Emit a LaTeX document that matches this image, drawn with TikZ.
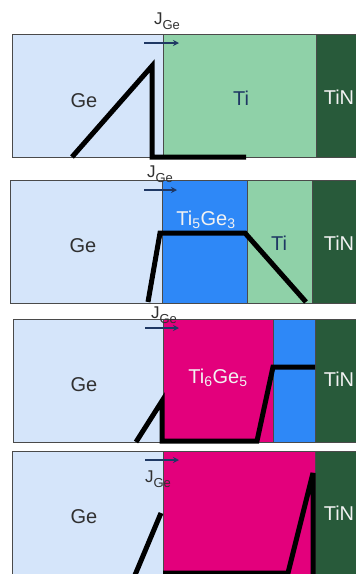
\documentclass[tikz,border=0pt]{standalone}
\usepackage{fontspec}
\setmainfont{Liberation Sans}
\usetikzlibrary{arrows.meta,positioning}
\definecolor{gefill}{HTML}{D5E5FA}
\definecolor{tifill}{HTML}{8FD1A8}
\definecolor{tinfill}{HTML}{285A3A}
\definecolor{tgblue}{HTML}{2E88F7}
\definecolor{tgpink}{HTML}{E3007C}
\definecolor{navy}{HTML}{1F3864}
\definecolor{edgegray}{HTML}{4A4A4A}
\definecolor{txtgray}{HTML}{303030}
\definecolor{offwhite}{HTML}{F2F2F2}
\tikzset{
  layer/.style={
    rectangle, draw=edgegray, fill=#1, line width=0.8pt,
    outer sep=0pt, inner sep=0pt, minimum height=123pt
  },
  layer/.default=gefill,
  lbl/.style={
    font=\fontsize{20}{24}\selectfont, text=#1,
    inner sep=0pt, anchor=base
  },
  lbl/.default=txtgray,
  profile/.style={line width=5pt, black},
  flux/.style={
    -{Stealth[length=6pt,width=6pt]}, line width=1.6pt, color=navy
  },
}
\newcommand{\jflux}{J\raisebox{-0.3em}{\fontsize{13}{13}\selectfont Ge}}

\begin{document}
\begin{tikzpicture}[x=1pt, y=-1pt,
  jlbl/.style={font=\fontsize{17}{20}\selectfont, text=txtgray,
    inner sep=0pt, anchor=base}]
  \clip (0,0) rectangle (356,574);

  % ── As deposited ────────────────
  \node[layer, anchor=north west, minimum width=151pt] (ge1) at (12,34) {};
  \node[layer=tifill, right=0pt of ge1, minimum width=153pt] (ti1) {};
  \node[layer=tinfill, right=0pt of ti1, minimum width=44pt] (tin1) {};
  \draw[profile] (72,157) -- (152,66) -- (152,157) -- (246,157);
  \node[lbl] (gel1) at (84,107) {Ge};
  \node[lbl=navy] (til1) at (241,105) {Ti};
  \node[lbl=offwhite] (tinl1) at (339,104) {TiN};
  \node[jlbl] (jl1) at (167,24) {\jflux};
  \coordinate (fa1) at (144,43);
  \coordinate (fb1) at (179,43);
  \draw[flux] (fa1) -- (fb1);

  % ── Ti5Ge3 ──────────────────────
  \node[layer, anchor=north west, minimum width=152pt] (ge2) at (10,180) {};
  \node[layer=tgblue, right=0pt of ge2, minimum width=85pt] (tg2) {};
  \node[layer=tifill, right=0pt of tg2, minimum width=65pt] (ti2) {};
  \node[layer=tinfill, right=0pt of ti2, minimum width=48pt] (tin2) {};
  \draw[profile] (148,302) -- (160,233) -- (245,233) -- (306,302);
  \node[lbl] (gel2) at (83,252) {Ge};
  \node[lbl=offwhite] (tgl2) at (206,225) {Ti\textsubscript{5}Ge\textsubscript{3}};
  \node[lbl=navy] (til2) at (279,250) {Ti};
  \node[lbl=offwhite] (tinl2) at (339,250) {TiN};
  \node[jlbl] (jl2) at (160,177) {\jflux};
  \coordinate (fa2) at (144,190);
  \coordinate (fb2) at (177,190);
  \draw[flux] (fa2) -- (fb2);

  % ── Ti6Ge5 ──────────────────────
  \node[layer, anchor=north west, minimum width=150pt] (ge3) at (13,319) {};
  \node[layer=tgpink, right=0pt of ge3, minimum width=110pt] (tg3) {};
  \node[layer=tgblue, right=0pt of tg3, minimum width=42pt] (tb3) {};
  \node[layer=tinfill, right=0pt of tb3, minimum width=44pt] (tin3) {};
  \draw[profile] (136,442) -- (162,401) -- (162,441) -- (257,441)
    -- (273,367) -- (315,367);
  \node[lbl] (gel3) at (84,391) {Ge};
  \node[lbl=offwhite] (tgl3) at (218,383) {Ti\textsubscript{6}Ge\textsubscript{5}};
  \node[lbl=offwhite] (tinl3) at (339,386) {TiN};
  \node[jlbl] (jl3) at (164,318) {\jflux};
  \coordinate (fa3) at (145,328);
  \coordinate (fb3) at (179,328);
  \draw[flux] (fa3) -- (fb3);

  % ── Ge consumed ─────────────────
  \node[layer, anchor=north west, minimum width=151pt] (ge4) at (12,451) {};
  \node[layer=tgpink, right=0pt of ge4, minimum width=152pt] (tg4) {};
  \node[layer=tinfill, right=0pt of tg4, minimum width=44pt] (tin4) {};
  \draw[profile] (135,575) -- (161,513);
  \draw[profile, line join=bevel] (163,573) -- (288,573) -- (313,473)
    -- (313,575);
  \node[lbl] (gel4) at (84,523) {Ge};
  \node[lbl=offwhite] (tinl4) at (339,520) {TiN};
  \node[jlbl] (jl4) at (158,482) {\jflux};
  \coordinate (fa4) at (145,460);
  \coordinate (fb4) at (179,460);
  \draw[flux] (fa4) -- (fb4);
\end{tikzpicture}
\end{document}
